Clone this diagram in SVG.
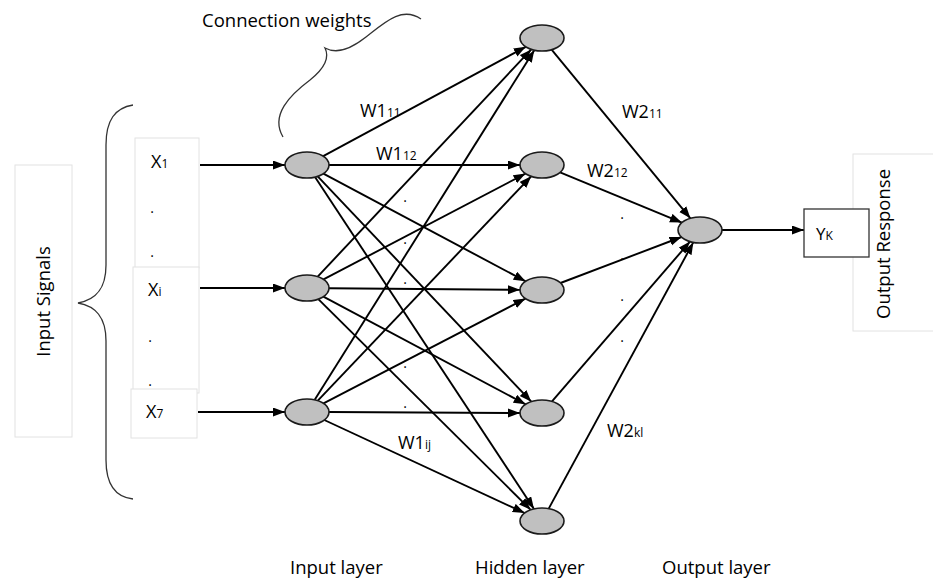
<svg xmlns="http://www.w3.org/2000/svg" width="933" height="580" viewBox="0 0 933 580">
<defs>
<style>
.t{font-family:"Open Sans","Liberation Sans",sans-serif;fill:#000}
.lbl{font-size:18.5px}
.w{font-size:18px}
.x{font-size:18px}
.sub{font-size:12px}
.dot{font-size:14px;text-anchor:middle}
.node{fill:#c0c0c0;stroke:#1a1a1a;stroke-width:1.6}
.faint{fill:#fff;stroke:#e2e2e2;stroke-width:1}
.brace{fill:none;stroke:#333;stroke-width:1.3}
.c{stroke:#000;stroke-width:1.9;fill:none;marker-end:url(#ah)}
</style>
<marker id="ah" markerUnits="userSpaceOnUse" markerWidth="13" markerHeight="10" refX="12" refY="4.5" orient="auto">
<path d="M0,0 L12,4.5 L0,9 z" fill="#000"/>
</marker>
</defs>
<rect width="933" height="580" fill="#fff"/>

<!-- side boxes -->
<g id="input-signals">
<rect class="faint" x="15" y="165" width="57" height="272"/>
<text class="t lbl" transform="translate(50,301.5) rotate(-90)" text-anchor="middle">Input Signals</text>
</g>
<g id="output-response">
<rect class="faint" x="853" y="154" width="95" height="177"/>
<text class="t lbl" transform="translate(890,244) rotate(-90)" text-anchor="middle">Output Response</text>
</g>

<!-- braces -->
<path class="brace" d="M133,105 C115,108 106,120 106,145 L106,265 C106,290 95,300 78,303 C95,306 106,316 106,341 L106,460 C106,485 115,497 133,499"/>
<path class="brace" d="M283,137 C270,115 290,95 310,80 C325,68 330,58 325,48 C338,55 352,48 366,37 C385,22 402,6 421,19"/>
<text class="t lbl" x="202" y="27">Connection weights</text>

<!-- input boxes -->
<g id="x1">
<rect class="faint" x="135" y="138" width="64" height="130"/>
<text class="t x" x="151" y="168">X<tspan class="sub">1</tspan></text>
<text class="t dot" x="152" y="213">.</text>
<text class="t dot" x="152" y="257">.</text>
</g>
<g id="xi">
<rect class="faint" x="133" y="267" width="66" height="126"/>
<text class="t x" x="148" y="296">X<tspan class="sub">i</tspan></text>
<text class="t dot" x="150" y="342">.</text>
<text class="t dot" x="150" y="386">.</text>
</g>
<g id="x7">
<rect class="faint" x="131" y="389" width="66" height="49"/>
<text class="t x" x="146" y="418">X<tspan class="sub">7</tspan></text>
</g>

<!-- connectors -->
<g id="connectors">
<line class="c" x1="200" y1="165" x2="285" y2="165"/>
<line class="c" x1="200" y1="288" x2="285" y2="288"/>
<line class="c" x1="198" y1="412" x2="285" y2="412"/>

<line class="c" x1="323.2" y1="156.2" x2="525.8" y2="46.8"/>
<line class="c" x1="329" y1="165" x2="520" y2="165"/>
<line class="c" x1="323.4" y1="173.7" x2="525.6" y2="281.3"/>
<line class="c" x1="317.7" y1="176.3" x2="531.3" y2="401.7"/>
<line class="c" x1="315" y1="177.1" x2="534" y2="508.9"/>

<line class="c" x1="317.7" y1="276.6" x2="531.3" y2="49.4"/>
<line class="c" x1="323.5" y1="279.4" x2="525.5" y2="173.6"/>
<line class="c" x1="329" y1="288.2" x2="520" y2="289.8"/>
<line class="c" x1="323.4" y1="296.7" x2="525.6" y2="404.3"/>
<line class="c" x1="318.3" y1="299.2" x2="530.7" y2="509.8"/>

<line class="c" x1="314.7" y1="399.8" x2="534.3" y2="50.2"/>
<line class="c" x1="317.8" y1="400.7" x2="531.2" y2="176.3"/>
<line class="c" x1="323.5" y1="403.4" x2="525.5" y2="298.6"/>
<line class="c" x1="329" y1="412" x2="520" y2="413"/>
<line class="c" x1="324.3" y1="420" x2="524.7" y2="513"/>

<line class="c" x1="551.6" y1="49.7" x2="690.4" y2="218.3"/>
<line class="c" x1="560.1" y1="172.4" x2="681.9" y2="222.6"/>
<line class="c" x1="560.5" y1="283" x2="681.5" y2="237"/>
<line class="c" x1="552" y1="401.4" x2="690" y2="241.6"/>
<line class="c" x1="548.7" y1="508.6" x2="693.3" y2="242.4"/>

<line class="c" x1="722" y1="230" x2="804" y2="230"/>
</g>

<!-- weight labels and dots -->
<g id="weights">
<text class="t w" x="360" y="117">W1<tspan class="sub">11</tspan></text>
<text class="t w" x="376" y="160">W1<tspan class="sub">12</tspan></text>
<text class="t w" x="398" y="449">W1<tspan class="sub">ij</tspan></text>
<text class="t w" x="622" y="118">W2<tspan class="sub">11</tspan></text>
<text class="t w" x="587" y="177">W2<tspan class="sub">12</tspan></text>
<text class="t w" x="607" y="437">W2<tspan class="sub">kl</tspan></text>
<text class="t dot" x="405" y="202">.</text>
<text class="t dot" x="405" y="244">.</text>
<text class="t dot" x="405" y="284">.</text>
<text class="t dot" x="405" y="368">.</text>
<text class="t dot" x="405" y="408">.</text>
<text class="t dot" x="622" y="219">.</text>
<text class="t dot" x="622" y="260">.</text>
<text class="t dot" x="622" y="301">.</text>
<text class="t dot" x="622" y="342">.</text>
</g>

<!-- nodes -->
<g id="in1"><ellipse class="node" cx="307" cy="165" rx="22" ry="13"/></g>
<g id="in2"><ellipse class="node" cx="307" cy="288" rx="22" ry="13"/></g>
<g id="in3"><ellipse class="node" cx="307" cy="412" rx="22" ry="13"/></g>
<g id="h1"><ellipse class="node" cx="542" cy="38" rx="22" ry="13"/></g>
<g id="h2"><ellipse class="node" cx="542" cy="165" rx="22" ry="13"/></g>
<g id="h3"><ellipse class="node" cx="542" cy="290" rx="22" ry="13"/></g>
<g id="h4"><ellipse class="node" cx="542" cy="413" rx="22" ry="13"/></g>
<g id="h5"><ellipse class="node" cx="542" cy="521" rx="22" ry="13"/></g>
<g id="out"><ellipse class="node" cx="700" cy="230" rx="22" ry="13"/></g>
<g id="yk">
<rect x="804" y="209" width="65" height="48" fill="#fff" stroke="#333" stroke-width="1.3"/>
<text class="t x" x="816" y="240" style="font-size:17px">Y<tspan class="sub">K</tspan></text>
</g>

<!-- layer labels -->
<text class="t lbl" x="290" y="574">Input layer</text>
<text class="t lbl" x="475" y="574">Hidden layer</text>
<text class="t lbl" x="662" y="574">Output layer</text>
</svg>
